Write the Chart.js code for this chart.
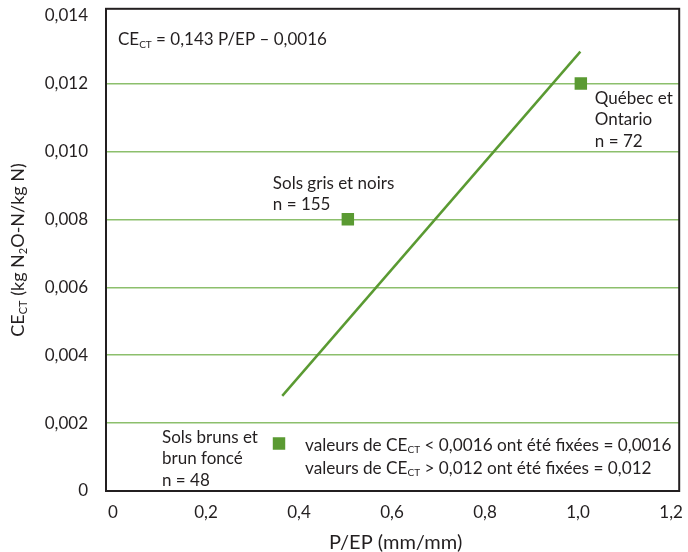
<!DOCTYPE html>
<html>
<head>
<meta charset="utf-8">
<script src="https://cdn.jsdelivr.net/npm/chart.js@4"></script>
<style>
  html, body { margin: 0; padding: 0; background: #fff; }
  #wrap { width: 688px; height: 552px; }
</style>
</head>
<body>
<div id="wrap"><canvas id="c" width="688" height="552"></canvas></div>
<script>
// data
const groups = ['Sols bruns et brun foncé', 'Sols gris et noirs', 'Québec et Ontario'];
const groupN = [48, 155, 72];
const groupX = [0.357, 0.505, 1.006];
const groupY = [0.0014, 0.008, 0.012];

// regression line end points
const fitX = [0.364, 1.005];
const fitY = [0.0028, 0.01294];

const xTicks = [0, 0.2, 0.4, 0.6, 0.8, 1.0, 1.2];
const xTickLabels = ['0', '0,2', '0,4', '0,6', '0,8', '1,0', '1,2'];
const yTicks = [0, 0.002, 0.004, 0.006, 0.008, 0.010, 0.012, 0.014];
const yTickLabels = ['0', '0,002', '0,004', '0,006', '0,008', '0,010', '0,012', '0,014'];

const equation = 'CE_{CT} = 0,143 P/EP – 0,0016';
const note = ['valeurs de CE_{CT} < 0,0016 ont été fixées = 0,0016',
              'valeurs de CE_{CT} > 0,012 ont été fixées = 0,012'];
const xTitle = 'P/EP (mm/mm)';
const yTitle = 'CE_{CT} (kg N_{2}O-N/kg N)';

const FONT = 'Lato, "Open Sans", sans-serif';
const INK = '#231f20';
const GREEN = '#5a9a32';
const GRID = '#8cbf6c';

// label text per group, placed relative to its marker
const groupLines = [
  ['Sols bruns et', 'brun foncé', 'n = ' + groupN[0]],
  ['Sols gris et noirs', 'n = ' + groupN[1]],
  ['Québec et', 'Ontario', 'n = ' + groupN[2]]
];
const groupOffsets = [[-117, -6], [-75, -36], [14, 15]];

function drawRich(ctx, str, x, y, size, align) {
  const parts = str.split(/(_\{[^}]*\})/).filter(s => s.length);
  const subSize = Math.round(size * 0.6);
  let total = 0;
  const segs = parts.map(p => {
    const sub = p.startsWith('_{');
    const t = sub ? p.slice(2, -1) : p;
    ctx.font = (sub ? subSize : size) + 'px ' + FONT;
    const w = ctx.measureText(t).width;
    total += w;
    return { t, sub, w };
  });
  let cx = align === 'center' ? x - total / 2 : x;
  ctx.textAlign = 'left';
  ctx.textBaseline = 'middle';
  segs.forEach(s => {
    ctx.font = (s.sub ? subSize : size) + 'px ' + FONT;
    ctx.fillText(s.t, cx, s.sub ? y + size * 0.28 : y);
    cx += s.w;
  });
}

const decor = {
  id: 'decor',
  afterDatasetsDraw(chart) {
    const { ctx, chartArea: a, scales: { x, y } } = chart;
    ctx.save();
    ctx.fillStyle = INK;
    // group labels
    groupLines.forEach((lines, i) => {
      const px = x.getPixelForValue(groupX[i]) + groupOffsets[i][0];
      const py = y.getPixelForValue(groupY[i]) + groupOffsets[i][1];
      lines.forEach((l, j) => drawRich(ctx, l, px, py + j * 21.5, 17, 'left'));
    });
    // note next to lowest marker
    const nx = x.getPixelForValue(groupX[0]) + 26;
    const ny = y.getPixelForValue(groupY[0]) + 2;
    note.forEach((l, j) => drawRich(ctx, l, nx, ny + j * 23, 17.2, 'left'));
    // equation
    drawRich(ctx, equation, a.left + 12, a.top + 31, 17, 'left');
    // axis titles
    drawRich(ctx, xTitle, (a.left + a.right) / 2 + 3, 543, 20, 'center');
    ctx.translate(18, (a.top + a.bottom) / 2);
    ctx.rotate(-Math.PI / 2);
    drawRich(ctx, yTitle, 0, 0, 18, 'center');
    ctx.restore();
    // frame
    ctx.save();
    ctx.strokeStyle = INK;
    ctx.lineWidth = 2;
    ctx.strokeRect(a.left, a.top, a.right - a.left, a.bottom - a.top);
    ctx.restore();
  }
};

function noPad(s) {
  s.paddingTop = 0;
  s.paddingBottom = 0;
  s.paddingLeft = 0;
  s.paddingRight = 0;
}

new Chart(document.getElementById('c'), {
  type: 'scatter',
  data: {
    datasets: [
      {
        type: 'line',
        label: 'Régression',
        data: fitX.map((v, i) => ({ x: v, y: fitY[i] })),
        borderColor: GREEN,
        borderWidth: 2.5,
        pointRadius: 0,
        fill: false
      },
      {
        label: 'Groupes',
        data: groupX.map((v, i) => ({ x: v, y: groupY[i] })),
        pointStyle: 'rect',
        pointRadius: 8.8,
        backgroundColor: GREEN,
        borderColor: GREEN,
        borderWidth: 0
      }
    ]
  },
  options: {
    responsive: false,
    animation: false,
    layout: { padding: { top: 8, right: 1, left: 0, bottom: 0 } },
    plugins: { legend: { display: false }, tooltip: { enabled: false } },
    scales: {
      x: {
        type: 'linear',
        min: -0.015,
        max: 1.2175,
        afterBuildTicks: s => { s.ticks = xTicks.map(v => ({ value: v })); },
        afterFit: s => { s.height = 61; noPad(s); },
        grid: { display: false, drawTicks: false },
        border: { display: false },
        ticks: {
          padding: 11,
          color: INK,
          font: { family: FONT, size: 17 },
          callback: (v, i) => xTickLabels[i]
        }
      },
      y: {
        type: 'linear',
        min: 0,
        max: 0.0142,
        afterBuildTicks: s => { s.ticks = yTicks.map(v => ({ value: v })); },
        afterFit: s => { s.width = 106; noPad(s); },
        grid: {
          drawTicks: false,
          lineWidth: 1.5,
          color: c => (c.tick && c.tick.value > 0 && c.tick.value < 0.0139) ? GRID : 'rgba(0,0,0,0)'
        },
        border: { display: false },
        ticks: {
          padding: 18,
          color: INK,
          font: { family: FONT, size: 17 },
          callback: (v, i) => yTickLabels[i]
        }
      }
    }
  },
  plugins: [decor]
});
</script>
</body>
</html>
